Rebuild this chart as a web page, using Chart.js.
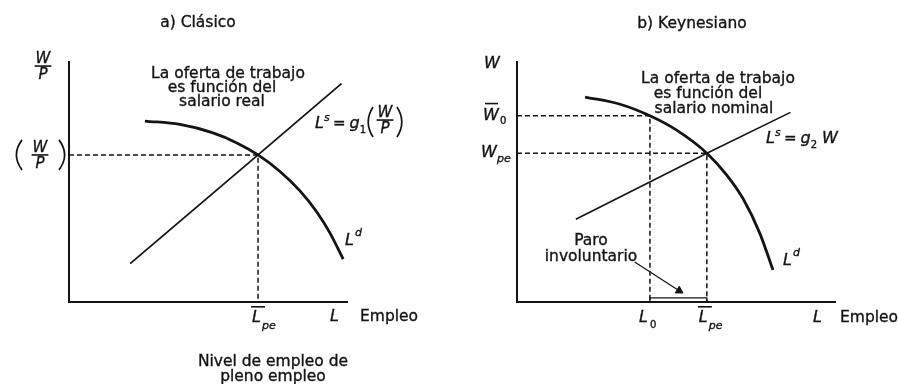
<!DOCTYPE html>
<html><head><meta charset="utf-8">
<script src="https://cdn.jsdelivr.net/npm/chart.js@4.4.1/dist/chart.umd.min.js"></script>
<style>
html,body{margin:0;padding:0;background:#fff;}
#wrap{position:relative;width:898px;height:384px;overflow:hidden;background:#fff;}
#wrap canvas{position:absolute;left:0;top:0;}
</style></head><body>
<div id="wrap"><canvas id="c1" width="898" height="384"></canvas><canvas id="c2" width="898" height="384"></canvas></div>
<script>
// ---------- data (abstract units, 0..10 on each axis) ----------
const panelTitles = ['a) Clásico', 'b) Keynesiano'];
const xAxisName = 'Empleo';
const clasicoNote = ['La oferta de trabajo', 'es función del', 'salario real'];
const keynesNote = ['La oferta de trabajo', 'es función del', 'salario nominal'];
const pleNote = ['Nivel de empleo de', 'pleno empleo'];
const paroNote = ['Paro', 'involuntario'];

// a) Clásico
const clasicoSupplyL = [2.2, 6.8, 9.8];
const clasicoSupplyW = [1.6, 6.13, 9.1];
const clasicoDemandL = [2.73, 3.99, 5.18, 6.04, 6.8, 7.59, 8.31, 8.92, 9.39, 9.86];
const clasicoDemandW = [7.54, 7.40, 7.05, 6.63, 6.13, 5.44, 4.63, 3.74, 2.87, 1.79];
const clasicoLpe = 6.8;
const clasicoWPpe = 6.13;

// b) Keynesiano
const keynesSupplyL = [1.85, 5.97, 8.6];
const keynesSupplyW = [3.45, 6.2, 7.9];
const keynesDemandL = [2.14, 3.24, 4.18, 5.02, 5.97, 6.59, 7.12, 7.64, 8.05];
const keynesDemandW = [8.54, 8.24, 7.76, 7.16, 6.20, 5.30, 4.28, 2.85, 1.33];
const keynesW0 = 7.76, keynesL0 = 4.18;
const keynesWpe = 6.2, keynesLpe = 5.97;
const paroArrowL = [3.7, 5.1];
const paroArrowW = [1.67, 0.47];
const paroBracketH = 0.17;

// ---------- helpers ----------
const INK = '#141414';
const pts = (xs, ys) => xs.map((x, i) => ({x, y: ys[i]}));
function F(size, it){ return (it ? 'italic ' : '') + size + 'px "DejaVu Sans", "Liberation Sans", sans-serif'; }
function txt(ctx, s, x, y, size, it, align){
  ctx.font = F(size, it); ctx.textAlign = align || 'left'; ctx.textBaseline = 'alphabetic';
  ctx.fillText(s, x, y);
  ctx.lineWidth = 0.35; ctx.strokeStyle = INK; ctx.strokeText(s, x, y);
  return ctx.measureText(s).width;
}
function frac(ctx, num, den, cx, ly, size){
  ctx.font = F(size, true);
  const w = Math.max(ctx.measureText(num).width, ctx.measureText(den).width);
  txt(ctx, num, cx, ly - 3, size, true, 'center');
  txt(ctx, den, cx, ly + size * 0.8 + 1, size, true, 'center');
  ctx.fillRect(cx - w / 2 - 1, ly - 0.75, w + 2, 1.6);
}
function paren(ctx, left, x, top, bot, w){
  ctx.save(); ctx.lineWidth = 1.7; ctx.strokeStyle = INK; ctx.beginPath();
  const mid = (top + bot) / 2;
  if (left){ ctx.moveTo(x + w, top); ctx.quadraticCurveTo(x - w * 0.6, mid, x + w, bot); }
  else { ctx.moveTo(x, top); ctx.quadraticCurveTo(x + w * 1.6, mid, x, bot); }
  ctx.stroke(); ctx.restore();
}
function bar(ctx, x, y, w){ ctx.fillRect(x, y, w, 1.6); }

function lineDS(data, width, dash, extra){
  return Object.assign({data, borderColor: INK, borderWidth: width, borderDash: dash || [],
    pointRadius: 0, fill: false, tension: 0, clip: false}, extra || {});
}
function baseOptions(padL, padR){
  return {
    responsive: false, animation: false, events: [],
    layout: {padding: {left: padL, right: padR, top: 62, bottom: 82}},
    plugins: {legend: {display: false}, tooltip: {enabled: false}, title: {display: false}},
    scales: {
      x: {type: 'linear', min: 0, max: 10, grid: {display: false, drawTicks: false},
          ticks: {display: false}, border: {display: true, color: INK, width: 2}},
      y: {type: 'linear', min: 0, max: 10, grid: {display: false, drawTicks: false},
          ticks: {display: false}, border: {display: true, color: INK, width: 2}}
    }
  };
}
const FS = 15.5;

// ---------- a) Clásico ----------
function drawA(chart){
  const ctx = chart.ctx, X = chart.scales.x, Y = chart.scales.y;
  ctx.save(); ctx.fillStyle = INK;
  const lx = X.getPixelForValue(clasicoLpe), wy = Y.getPixelForValue(clasicoWPpe);
  txt(ctx, panelTitles[0], 198, 27, FS, false, 'center');
  frac(ctx, 'W', 'P', 43, 66, 15);
  frac(ctx, 'W', 'P', 40, wy, 15);
  paren(ctx, true, 15, wy - 15, wy + 15, 7);
  paren(ctx, false, 59, wy - 15, wy + 15, 7);
  txt(ctx, clasicoNote[0], 228, 78, FS, false, 'center');
  txt(ctx, clasicoNote[1], 222, 92, FS, false, 'center');
  txt(ctx, clasicoNote[2], 222, 106, FS, false, 'center');
  let x = 315;
  x += txt(ctx, 'L', x, 128, 16, true);
  txt(ctx, 's', x, 121, 11, true); x += 9;
  x += txt(ctx, '=', x, 128, 15, false) + 4;
  x += txt(ctx, 'g', x, 128, 16, true);
  x += txt(ctx, '1', x, 133, 10, false);
  paren(ctx, true, x + 1, 107, 137, 6);
  frac(ctx, 'W', 'P', x + 19, 120, 15);
  paren(ctx, false, x + 31, 107, 137, 6);
  txt(ctx, 'L', 345, 245, 16, true); txt(ctx, 'd', 355, 236, 11, true);
  txt(ctx, 'L', lx - 6, 322, 16, true); bar(ctx, lx - 7, 306, 14);
  txt(ctx, 'pe', lx + 4, 329, 11, true);
  txt(ctx, 'L', 330, 321, 16, true);
  txt(ctx, xAxisName, 360, 321, FS, false);
  txt(ctx, pleNote[0], 273, 366, FS, false, 'center');
  txt(ctx, pleNote[1], 273, 381, FS, false, 'center');
  ctx.restore();
}

new Chart(document.getElementById('c1'), {
  type: 'line',
  data: {datasets: [
    lineDS(pts([0, clasicoLpe, clasicoLpe], [clasicoWPpe, clasicoWPpe, 0]), 1.5, [5, 3]),
    lineDS(pts(clasicoSupplyL, clasicoSupplyW), 1.8),
    lineDS(pts(clasicoDemandL, clasicoDemandW), 2.8, [], {cubicInterpolationMode: 'monotone'})
  ]},
  options: baseOptions(69, 898 - 347),
  plugins: [{id: 'labelsA', afterDraw: drawA}]
});

// ---------- b) Keynesiano ----------
function drawB(chart){
  const ctx = chart.ctx, X = chart.scales.x, Y = chart.scales.y;
  ctx.save(); ctx.fillStyle = INK;
  const l0 = X.getPixelForValue(keynesL0), lpe = X.getPixelForValue(keynesLpe);
  const w0 = Y.getPixelForValue(keynesW0), wpe = Y.getPixelForValue(keynesWpe);
  txt(ctx, panelTitles[1], 692, 28, FS, false, 'center');
  txt(ctx, 'W', 492, 68, 16, true, 'center');
  txt(ctx, 'W', 483, w0 + 4, 16, true); bar(ctx, 485, w0 - 13, 13);
  txt(ctx, '0', 500, w0 + 8, 10, false);
  txt(ctx, 'W', 481, wpe + 4, 16, true); txt(ctx, 'pe', 497, wpe + 9, 11, true);
  txt(ctx, keynesNote[0], 718, 83, FS, false, 'center');
  txt(ctx, keynesNote[1], 708, 98, FS, false, 'center');
  txt(ctx, keynesNote[2], 714, 113, FS, false, 'center');
  let x = 766;
  x += txt(ctx, 'L', x, 143, 16, true);
  txt(ctx, 's', x, 136, 11, true); x += 9;
  x += txt(ctx, '=', x, 143, 15, false) + 4;
  x += txt(ctx, 'g', x, 143, 16, true);
  x += txt(ctx, '2', x, 148, 10, false) + 5;
  txt(ctx, 'W', x, 143, 16, true);
  txt(ctx, 'L', 783, 265, 16, true); txt(ctx, 'd', 793, 256, 11, true);
  txt(ctx, paroNote[0], 591, 245, FS, false, 'center');
  txt(ctx, paroNote[1], 591, 261, FS, false, 'center');
  txt(ctx, 'L', l0 - 11, 322, 16, true); txt(ctx, '0', l0 + 0, 328, 10, false);
  txt(ctx, 'L', lpe - 8, 322, 16, true); bar(ctx, lpe - 9, 306, 14);
  txt(ctx, 'pe', lpe + 2, 329, 11, true);
  txt(ctx, 'L', 813, 322, 16, true);
  txt(ctx, xAxisName, 840, 322, FS, false);
  ctx.restore();
}

const bracketL = [keynesL0, keynesL0, keynesLpe, keynesLpe];
const bracketW = [0, paroBracketH, paroBracketH, 0];
new Chart(document.getElementById('c2'), {
  type: 'line',
  data: {datasets: [
    lineDS(pts([0, keynesL0, keynesL0], [keynesW0, keynesW0, 0]), 1.5, [5, 3]),
    lineDS(pts([0, keynesLpe, keynesLpe], [keynesWpe, keynesWpe, 0]), 1.5, [5, 3]),
    lineDS(pts(keynesSupplyL, keynesSupplyW), 1.6),
    lineDS(pts(keynesDemandL, keynesDemandW), 2.8, [], {cubicInterpolationMode: 'monotone'}),
    lineDS(pts(bracketL, bracketW), 1.3),
    lineDS(pts(paroArrowL, paroArrowW), 1.2, [], {
      pointRadius: [0, 4.5], pointStyle: 'triangle', pointRotation: [0, 121],
      pointBackgroundColor: INK, pointBorderColor: INK, pointBorderWidth: 1})
  ]},
  options: baseOptions(517, 898 - 835),
  plugins: [{id: 'labelsB', afterDraw: drawB}]
});
</script>
</body></html>
